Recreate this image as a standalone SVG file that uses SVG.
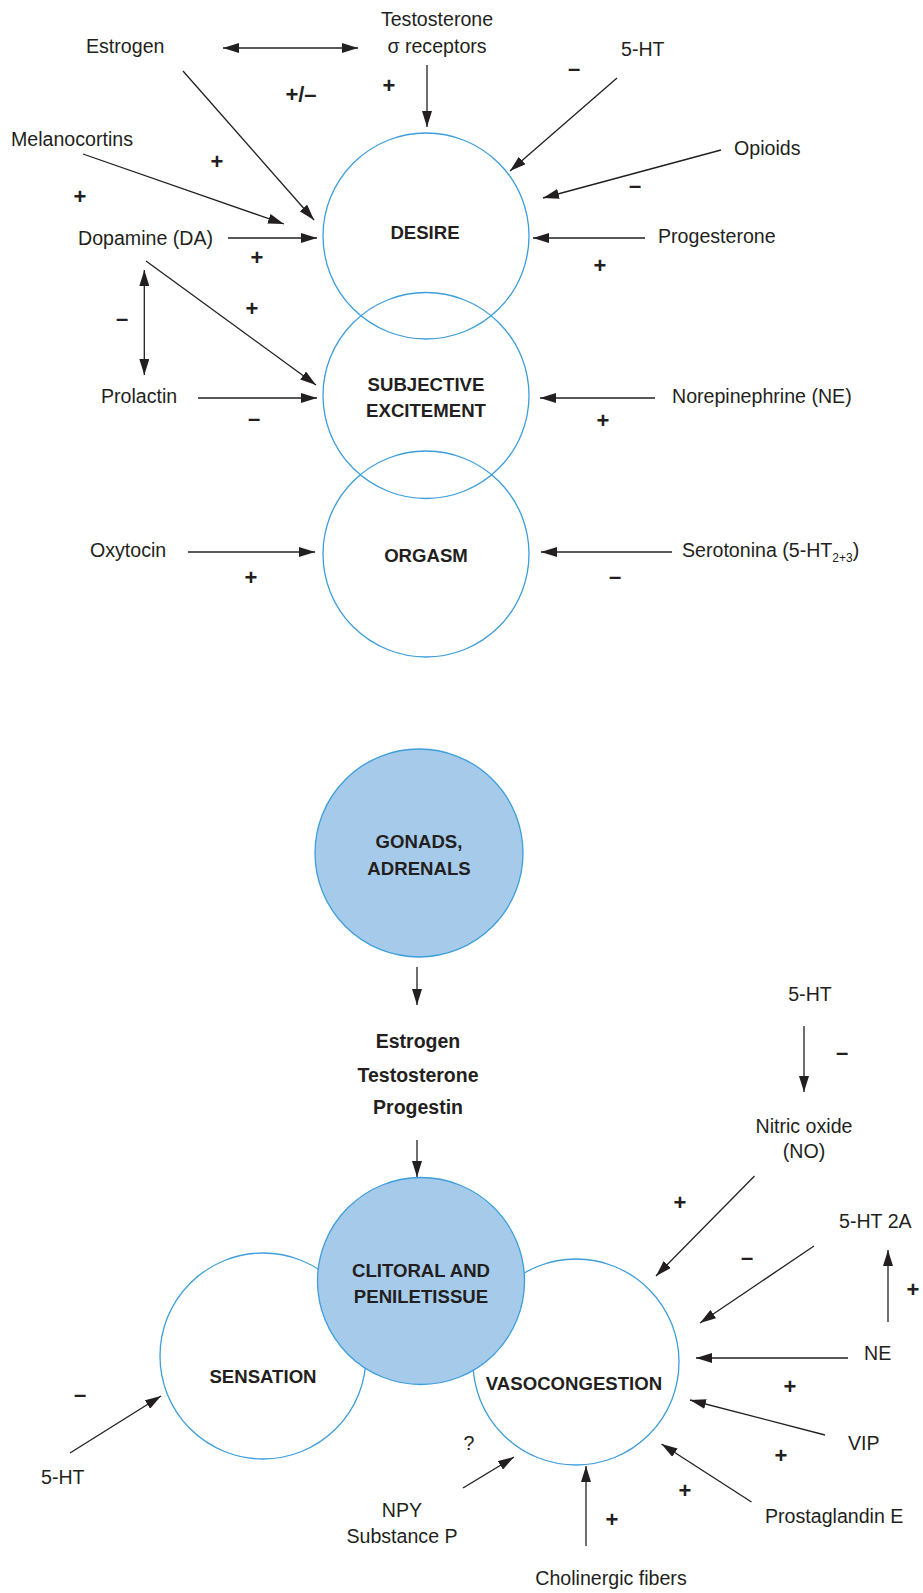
<svg xmlns="http://www.w3.org/2000/svg" width="923" height="1593" viewBox="0 0 923 1593">
<defs>
<style>
.lbl{font-family:"Liberation Sans",Arial,sans-serif;font-size:19.6px;fill:#231f20}
.bl{font-family:"Liberation Sans",Arial,sans-serif;font-size:18.6px;font-weight:bold;fill:#231f20;text-anchor:middle}
.bh{font-family:"Liberation Sans",Arial,sans-serif;font-size:19.5px;font-weight:bold;fill:#231f20;text-anchor:middle}
.sg{font-family:"Liberation Sans",Arial,sans-serif;font-size:22px;font-weight:bold;fill:#231f20;text-anchor:middle}
.c{text-anchor:middle}
.ring{fill:#ffffff;stroke:#3d9edb;stroke-width:1.3}
.ringf{fill:#a6cbea;stroke:#3d9edb;stroke-width:1.3}
.ring0{fill:none;stroke:#3d9edb;stroke-width:1.3}
.cn line{stroke:#231f20;stroke-width:1.3;fill:none}
</style>
<marker id="ah" viewBox="0 0 16 10" refX="16" refY="5" markerWidth="16" markerHeight="10" markerUnits="userSpaceOnUse" orient="auto-start-reverse">
<path d="M0,0 L16,5 L0,10 z" fill="#231f20"/>
</marker>
</defs>
<rect width="923" height="1593" fill="#ffffff"/>

<!-- top circles -->
<g id="desire"><circle class="ring0" cx="426" cy="236" r="103"/><text class="bl" x="425" y="239">DESIRE</text></g>
<g id="subjective"><circle class="ring0" cx="426" cy="395.5" r="103"/><text class="bl" x="426" y="391">SUBJECTIVE</text><text class="bl" x="426" y="417">EXCITEMENT</text></g>
<g id="orgasm"><circle class="ring0" cx="426" cy="554" r="103"/><text class="bl" x="426" y="562">ORGASM</text></g>

<!-- top labels -->
<g id="estrogen"><text class="lbl" x="86" y="53">Estrogen</text></g>
<g id="testosterone"><text class="lbl c" x="437" y="26">Testosterone</text><text class="lbl c" x="437" y="53">σ receptors</text></g>
<g id="ht5top"><text class="lbl" x="621" y="56">5-HT</text></g>
<g id="melanocortins"><text class="lbl" x="11" y="146">Melanocortins</text></g>
<g id="opioids"><text class="lbl" x="734" y="155">Opioids</text></g>
<g id="dopamine"><text class="lbl" x="78" y="245">Dopamine (DA)</text></g>
<g id="progesterone"><text class="lbl" x="658" y="243">Progesterone</text></g>
<g id="prolactin"><text class="lbl" x="101" y="403">Prolactin</text></g>
<g id="norepinephrine"><text class="lbl" x="672" y="403">Norepinephrine (NE)</text></g>
<g id="oxytocin"><text class="lbl" x="90" y="557">Oxytocin</text></g>
<g id="serotonina"><text class="lbl" x="682" y="557">Serotonina (5-HT<tspan font-size="12" dy="5">2+3</tspan><tspan dy="-5">)</tspan></text></g>

<!-- bottom nodes -->
<g id="gonads"><circle class="ringf" cx="419" cy="853" r="104"/><text class="bl" x="419" y="848">GONADS,</text><text class="bl" x="419" y="875">ADRENALS</text></g>
<g id="hormones"><text class="bh" x="418" y="1048">Estrogen</text><text class="bh" x="418" y="1082">Testosterone</text><text class="bh" x="418" y="1114">Progestin</text></g>
<g id="sensation"><circle class="ring" cx="263" cy="1356" r="103"/><text class="bl" x="263" y="1383">SENSATION</text></g>
<g id="vasocongestion"><circle class="ring" cx="576" cy="1362" r="103"/><text class="bl" x="574" y="1390">VASOCONGESTION</text></g>
<g id="clitoral"><circle class="ringf" cx="421" cy="1281" r="103.5"/><text class="bl" x="421" y="1277">CLITORAL AND</text><text class="bl" x="421" y="1303">PENILETISSUE</text></g>

<g id="ht5right"><text class="lbl c" x="810" y="1001">5-HT</text></g>
<g id="nitricoxide"><text class="lbl c" x="804" y="1133">Nitric oxide</text><text class="lbl c" x="804" y="1158">(NO)</text></g>
<g id="ht2a"><text class="lbl" x="839" y="1228">5-HT 2A</text></g>
<g id="ne"><text class="lbl" x="864" y="1360">NE</text></g>
<g id="vip"><text class="lbl" x="848" y="1450">VIP</text></g>
<g id="pge"><text class="lbl" x="765" y="1523">Prostaglandin E</text></g>
<g id="cholinergic"><text class="lbl c" x="611" y="1585">Cholinergic fibers</text></g>
<g id="npy"><text class="lbl c" x="402" y="1517">NPY</text><text class="lbl c" x="402" y="1543">Substance P</text></g>
<g id="ht5left"><text class="lbl" x="41" y="1484">5-HT</text></g>

<!-- connectors -->
<g id="connectors" class="cn">
<line x1="223" y1="48" x2="358" y2="48" marker-start="url(#ah)" marker-end="url(#ah)"/>
<line x1="427" y1="65" x2="427" y2="127" marker-end="url(#ah)"/>
<line x1="617" y1="78" x2="510" y2="171" marker-end="url(#ah)"/>
<line x1="721" y1="150" x2="543" y2="198" marker-end="url(#ah)"/>
<line x1="645" y1="238" x2="533" y2="238" marker-end="url(#ah)"/>
<line x1="83" y1="154" x2="284" y2="224" marker-end="url(#ah)"/>
<line x1="183" y1="71" x2="314" y2="220" marker-end="url(#ah)"/>
<line x1="228" y1="238" x2="317" y2="238" marker-end="url(#ah)"/>
<line x1="146" y1="261" x2="316" y2="385" marker-end="url(#ah)"/>
<line x1="144.3" y1="270" x2="144.3" y2="375" marker-start="url(#ah)" marker-end="url(#ah)"/>
<line x1="198" y1="398" x2="317" y2="398" marker-end="url(#ah)"/>
<line x1="655" y1="398" x2="540" y2="398" marker-end="url(#ah)"/>
<line x1="188" y1="552" x2="315" y2="552" marker-end="url(#ah)"/>
<line x1="672" y1="552" x2="541" y2="552" marker-end="url(#ah)"/>
<line x1="417" y1="967" x2="417" y2="1005" marker-end="url(#ah)"/>
<line x1="417" y1="1140" x2="417" y2="1177" marker-end="url(#ah)"/>
<line x1="804" y1="1026" x2="804" y2="1092" marker-end="url(#ah)"/>
<line x1="754.5" y1="1176" x2="656" y2="1276" marker-end="url(#ah)"/>
<line x1="888" y1="1322" x2="888" y2="1250" marker-end="url(#ah)"/>
<line x1="814" y1="1246" x2="700" y2="1323" marker-end="url(#ah)"/>
<line x1="848" y1="1358" x2="696" y2="1358" marker-end="url(#ah)"/>
<line x1="825" y1="1435" x2="690" y2="1400" marker-end="url(#ah)"/>
<line x1="751.5" y1="1502" x2="661.5" y2="1444" marker-end="url(#ah)"/>
<line x1="586" y1="1546" x2="586" y2="1466" marker-end="url(#ah)"/>
<line x1="463" y1="1488" x2="514" y2="1457" marker-end="url(#ah)"/>
<line x1="70" y1="1453" x2="161" y2="1396" marker-end="url(#ah)"/>
</g>

<!-- signs -->
<g id="signs">
<text class="sg" x="301" y="102">+/–</text>
<text class="sg" x="389" y="93">+</text>
<text class="sg" x="574" y="76">–</text>
<text class="sg" x="217" y="169">+</text>
<text class="sg" x="80" y="204">+</text>
<text class="sg" x="635" y="193">–</text>
<text class="sg" x="257" y="265">+</text>
<text class="sg" x="600" y="273">+</text>
<text class="sg" x="252" y="316">+</text>
<text class="sg" x="122" y="326">–</text>
<text class="sg" x="254" y="426">–</text>
<text class="sg" x="603" y="428">+</text>
<text class="sg" x="251" y="585">+</text>
<text class="sg" x="615" y="584">–</text>
<text class="sg" x="842" y="1060">–</text>
<text class="sg" x="680" y="1210">+</text>
<text class="sg" x="747" y="1265">–</text>
<text class="sg" x="913" y="1297">+</text>
<text class="sg" x="790" y="1394">+</text>
<text class="sg" x="781" y="1463">+</text>
<text class="sg" x="685" y="1498">+</text>
<text class="sg" x="612" y="1527">+</text>
<text class="sg" x="80" y="1402">–</text>
<text class="lbl c" x="469" y="1450" font-size="17">?</text>
</g>
</svg>
